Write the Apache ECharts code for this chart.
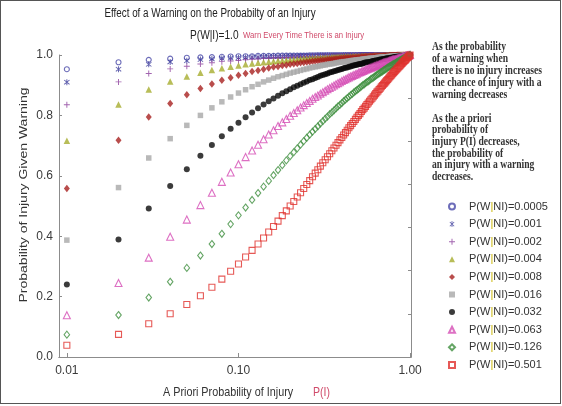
<!DOCTYPE html>
<html><head><meta charset="utf-8">
<script src="https://cdn.jsdelivr.net/npm/echarts@6/dist/echarts.min.js"></script>
<style>
html,body{margin:0;padding:0;background:#fff;}
#frame{position:absolute;left:0;top:0;width:559px;height:402px;border:1px solid #555;}
#chart{position:absolute;left:0;top:0;width:562px;height:406px;}
</style></head>
<body><div id="frame"></div><div id="chart"></div>
<script>
// A priori probability of injury P(I)
const pI = [0.01,0.02,0.03,0.04,0.05,0.06,0.07,0.08,0.09,0.10,
0.11,0.12,0.13,0.14,0.15,0.16,0.17,0.18,0.19,0.20,
0.21,0.22,0.23,0.24,0.25,0.26,0.27,0.28,0.29,0.30,
0.31,0.32,0.33,0.34,0.35,0.36,0.37,0.38,0.39,0.40,
0.41,0.42,0.43,0.44,0.45,0.46,0.47,0.48,0.49,0.50,
0.51,0.52,0.53,0.54,0.55,0.56,0.57,0.58,0.59,0.60,
0.61,0.62,0.63,0.64,0.65,0.66,0.67,0.68,0.69,0.70,
0.71,0.72,0.73,0.74,0.75,0.76,0.77,0.78,0.79,0.80,
0.81,0.82,0.83,0.84,0.85,0.86,0.87,0.88,0.89,0.90,
0.91,0.92,0.93,0.94,0.95,0.96,0.97,0.98,0.99,1.00];

// Probability of injury given warning, one list per P(W|NI)
const s0005 = [0.953,0.976,0.984,0.988,0.991,0.992,0.993,0.994,0.995,0.996,
0.996,0.996,0.997,0.997,0.997,0.997,0.998,0.998,0.998,0.998,
0.998,0.998,0.998,0.998,0.998,0.999,0.999,0.999,0.999,0.999,
0.999,0.999,0.999,0.999,0.999,0.999,0.999,0.999,0.999,0.999,
0.999,0.999,0.999,0.999,0.999,0.999,0.999,0.999,0.999,0.999,
1,1,1,1,1,1,1,1,1,1, 1,1,1,1,1,1,1,1,1,1, 1,1,1,1,1,1,1,1,1,1,
1,1,1,1,1,1,1,1,1,1, 1,1,1,1,1,1,1,1,1,1];
const s001 = [0.910,0.953,0.969,0.977,0.981,0.985,0.987,0.989,0.990,0.991,
0.992,0.993,0.993,0.994,0.994,0.995,0.995,0.995,0.996,0.996,
0.996,0.996,0.997,0.997,0.997,0.997,0.997,0.997,0.998,0.998,
0.998,0.998,0.998,0.998,0.998,0.998,0.998,0.998,0.998,0.998,
0.999,0.999,0.999,0.999,0.999,0.999,0.999,0.999,0.999,0.999,
0.999,0.999,0.999,0.999,0.999,0.999,0.999,0.999,0.999,0.999,
0.999,0.999,0.999,0.999,0.999,0.999,1,1,1,1,
1,1,1,1,1,1,1,1,1,1, 1,1,1,1,1,1,1,1,1,1, 1,1,1,1,1,1,1,1,1,1];
const s002 = [0.835,0.911,0.939,0.954,0.963,0.970,0.974,0.978,0.980,0.982,
0.984,0.986,0.987,0.988,0.989,0.990,0.990,0.991,0.992,0.992,
0.993,0.993,0.993,0.994,0.994,0.994,0.995,0.995,0.995,0.995,
0.996,0.996,0.996,0.996,0.996,0.996,0.997,0.997,0.997,0.997,
0.997,0.997,0.997,0.998,0.998,0.998,0.998,0.998,0.998,0.998,
0.998,0.998,0.998,0.998,0.998,0.998,0.998,0.999,0.999,0.999,
0.999,0.999,0.999,0.999,0.999,0.999,0.999,0.999,0.999,0.999,
0.999,0.999,0.999,0.999,0.999,0.999,0.999,0.999,0.999,0.999,
1,1,1,1,1,1,1,1,1,1, 1,1,1,1,1,1,1,1,1,1];
const s004 = [0.716,0.836,0.886,0.912,0.929,0.941,0.950,0.956,0.961,0.965,
0.969,0.972,0.974,0.976,0.978,0.979,0.981,0.982,0.983,0.984,
0.985,0.986,0.987,0.988,0.988,0.989,0.989,0.990,0.990,0.991,
0.991,0.992,0.992,0.992,0.993,0.993,0.993,0.994,0.994,0.994,
0.994,0.995,0.995,0.995,0.995,0.995,0.996,0.996,0.996,0.996,
0.996,0.996,0.997,0.997,0.997,0.997,0.997,0.997,0.997,0.997,
0.997,0.998,0.998,0.998,0.998,0.998,0.998,0.998,0.998,0.998,
0.998,0.998,0.999,0.999,0.999,0.999,0.999,0.999,0.999,0.999,
0.999,0.999,0.999,0.999,0.999,0.999,0.999,0.999,1,1,
1,1,1,1,1,1,1,1,1,1];
const s008 = [0.558,0.718,0.795,0.839,0.868,0.889,0.904,0.916,0.925,0.933,
0.939,0.945,0.949,0.953,0.957,0.960,0.962,0.965,0.967,0.969,
0.971,0.972,0.974,0.975,0.977,0.978,0.979,0.980,0.981,0.982,
0.983,0.983,0.984,0.985,0.985,0.986,0.987,0.987,0.988,0.988,
0.989,0.989,0.990,0.990,0.990,0.991,0.991,0.991,0.992,0.992,
0.992,0.993,0.993,0.993,0.994,0.994,0.994,0.994,0.995,0.995,
0.995,0.995,0.995,0.996,0.996,0.996,0.996,0.996,0.996,0.997,
0.997,0.997,0.997,0.997,0.997,0.998,0.998,0.998,0.998,0.998,
0.998,0.998,0.998,0.999,0.999,0.999,0.999,0.999,0.999,0.999,
0.999,0.999,0.999,1,1,1,1,1,1,1];
const s016 = [0.387,0.561,0.659,0.723,0.767,0.800,0.825,0.845,0.861,0.874,
0.885,0.895,0.903,0.911,0.917,0.923,0.928,0.932,0.936,0.940,
0.943,0.946,0.949,0.952,0.954,0.957,0.959,0.961,0.962,0.964,
0.966,0.967,0.969,0.970,0.971,0.972,0.974,0.975,0.976,0.977,
0.978,0.978,0.979,0.980,0.981,0.982,0.982,0.983,0.984,0.984,
0.985,0.985,0.986,0.987,0.987,0.988,0.988,0.989,0.989,0.989,
0.990,0.990,0.991,0.991,0.992,0.992,0.992,0.993,0.993,0.993,
0.994,0.994,0.994,0.994,0.995,0.995,0.995,0.996,0.996,0.996,
0.996,0.997,0.997,0.997,0.997,0.997,0.998,0.998,0.998,0.998,
0.998,0.999,0.999,0.999,0.999,0.999,1,1,1,1];
const s032 = [0.240,0.389,0.492,0.566,0.622,0.666,0.702,0.731,0.756,0.776,
0.794,0.810,0.824,0.836,0.847,0.856,0.865,0.873,0.880,0.887,
0.893,0.898,0.903,0.908,0.912,0.917,0.920,0.924,0.927,0.931,
0.934,0.936,0.939,0.942,0.944,0.946,0.948,0.950,0.952,0.954,
0.956,0.958,0.959,0.961,0.962,0.964,0.965,0.967,0.968,0.969,
0.970,0.971,0.972,0.974,0.975,0.976,0.976,0.977,0.978,0.979,
0.980,0.981,0.982,0.982,0.983,0.984,0.985,0.985,0.986,0.987,
0.987,0.988,0.988,0.989,0.989,0.990,0.991,0.991,0.992,0.992,
0.993,0.993,0.994,0.994,0.994,0.995,0.995,0.996,0.996,0.996,
0.997,0.997,0.998,0.998,0.998,0.999,0.999,0.999,1.000,1];
const s063 = [0.138,0.245,0.329,0.398,0.455,0.503,0.544,0.580,0.611,0.638,
0.662,0.684,0.703,0.721,0.737,0.751,0.765,0.777,0.788,0.799,
0.808,0.817,0.826,0.834,0.841,0.848,0.855,0.861,0.866,0.872,
0.877,0.882,0.887,0.891,0.895,0.899,0.903,0.907,0.910,0.914,
0.917,0.920,0.923,0.926,0.929,0.931,0.934,0.936,0.938,0.941,
0.943,0.945,0.947,0.949,0.951,0.953,0.955,0.956,0.958,0.960,
0.961,0.963,0.964,0.966,0.967,0.969,0.970,0.971,0.973,0.974,
0.975,0.976,0.977,0.978,0.979,0.981,0.982,0.983,0.984,0.985,
0.985,0.986,0.987,0.988,0.989,0.990,0.991,0.992,0.992,0.993,
0.994,0.995,0.995,0.996,0.997,0.997,0.998,0.999,0.999,1];
const s126 = [0.074,0.139,0.197,0.249,0.295,0.336,0.374,0.408,0.440,0.469,
0.495,0.520,0.543,0.564,0.583,0.602,0.619,0.635,0.651,0.665,
0.678,0.691,0.703,0.715,0.726,0.736,0.746,0.755,0.764,0.773,
0.781,0.789,0.796,0.804,0.810,0.817,0.823,0.830,0.835,0.841,
0.847,0.852,0.857,0.862,0.867,0.871,0.876,0.880,0.884,0.888,
0.892,0.896,0.900,0.903,0.907,0.910,0.913,0.916,0.920,0.923,
0.925,0.928,0.931,0.934,0.937,0.939,0.942,0.944,0.946,0.949,
0.951,0.953,0.956,0.958,0.960,0.962,0.964,0.966,0.968,0.970,
0.971,0.973,0.975,0.977,0.978,0.980,0.982,0.983,0.985,0.986,
0.988,0.989,0.991,0.992,0.993,0.995,0.996,0.997,0.999,1];
const s501 = [0.039,0.075,0.110,0.143,0.174,0.203,0.231,0.258,0.284,0.308,
0.331,0.353,0.374,0.394,0.414,0.432,0.450,0.468,0.484,0.500,
0.515,0.530,0.544,0.558,0.571,0.584,0.597,0.609,0.620,0.632,
0.643,0.653,0.663,0.673,0.683,0.692,0.701,0.710,0.719,0.727,
0.735,0.743,0.751,0.759,0.766,0.773,0.780,0.787,0.794,0.800,
0.806,0.813,0.819,0.824,0.830,0.836,0.841,0.847,0.852,0.857,
0.862,0.867,0.872,0.877,0.881,0.886,0.890,0.895,0.899,0.903,
0.907,0.911,0.915,0.919,0.923,0.927,0.931,0.934,0.938,0.941,
0.945,0.948,0.951,0.955,0.958,0.961,0.964,0.967,0.970,0.973,
0.976,0.979,0.982,0.984,0.987,0.990,0.992,0.995,0.997,1];

const seriesNames = ['P(W|NI)=0.0005','P(W|NI)=0.001','P(W|NI)=0.002','P(W|NI)=0.004','P(W|NI)=0.008',
  'P(W|NI)=0.016','P(W|NI)=0.032','P(W|NI)=0.063','P(W|NI)=0.126','P(W|NI)=0.501'];
const seriesValues = [s0005,s001,s002,s004,s008,s016,s032,s063,s126,s501];
const xTickValues = [0.01, 0.1, 1];
const yTicks = [0, 0.2, 0.4, 0.6, 0.8, 1.0];

const STAR = 'path://M4.35 0L5.65 0L5.65 10L4.35 10Z M0.9 1.8L1.8 0.9L9.1 8.2L8.2 9.1Z M8.2 0.9L9.1 1.8L1.8 9.1L0.9 8.2Z';
const PLUS = 'path://M4.2 0L5.8 0L5.8 4.2L10 4.2L10 5.8L5.8 5.8L5.8 10L4.2 10L4.2 5.8L0 5.8L0 4.2L4.2 4.2Z';
const styles = [
  {symbol:'circle', size:5, color:'#4848a8', open:true},
  {symbol:STAR, size:6, color:'#38389a', open:false},
  {symbol:PLUS, size:6, color:'#8b3d9b', open:false},
  {symbol:'triangle', size:6.5, color:'#a6ac2e', open:false},
  {symbol:'diamond', size:[6,7.5], color:'#a8201f', open:false},
  {symbol:'rect', size:5.5, color:'#a7a7a7', open:false},
  {symbol:'circle', size:6, color:'#0a0a0a', open:false},
  {symbol:'triangle', size:7, color:'#d54cb4', open:true},
  {symbol:'diamond', size:[5.5,7], color:'#3f8f3f', open:true},
  {symbol:'rect', size:6, color:'#e0302c', open:true}
];

const sansFont = '"Liberation Sans", Arial, sans-serif';
const serifFont = '"Liberation Serif", "Times New Roman", serif';

const series = seriesValues.map((vals, i) => {
  const st = styles[i];
  return {
    name: seriesNames[i],
    type: 'scatter',
    symbol: st.symbol,
    symbolSize: st.size,
    itemStyle: st.open
      ? {color: 'rgba(255,255,255,0)', borderColor: st.color, borderWidth: 1.1}
      : {color: st.color},
    emphasis: {disabled: true},
    data: pI.map((x, k) => [x, vals[k]])
  };
});

const chart = echarts.init(document.getElementById('chart'), null, {renderer: 'canvas'});
chart.setOption({
  animation: false,
  backgroundColor: 'transparent',
  grid: {left: 59, right: 151, top: 55, bottom: 49},
  xAxis: [{
    type: 'log', logBase: 10, min: 0.009, max: 1.012,
    axisLine: {lineStyle: {color: '#8c8c8c', width: 1}},
    axisTick: {show: true, inside: true, length: 4, lineStyle: {color: '#8c8c8c'}},
    splitLine: {show: false},
    axisLabel: {
      color: '#3a3a3a', fontSize: 12, fontFamily: sansFont, margin: 8,
      formatter: v => {
        const hit = xTickValues.find(t => Math.abs(Math.log10(v) - Math.log10(t)) < 1e-6);
        return hit !== undefined ? hit.toFixed(2) : '';
      }
    }
  }, {
    type: 'value', position: 'top', min: 0, max: 1,
    axisLine: {show: true, lineStyle: {color: '#8c8c8c', width: 1}},
    axisTick: {show: false}, axisLabel: {show: false}, splitLine: {show: false}
  }],
  yAxis: [{
    type: 'value', min: 0, max: 1, interval: 0.2,
    axisLine: {show: true, lineStyle: {color: '#8c8c8c', width: 1}},
    axisTick: {show: true, inside: true, length: 3, lineStyle: {color: '#8c8c8c'}},
    splitLine: {show: false},
    axisLabel: {color: '#3a3a3a', fontSize: 12, fontFamily: sansFont, margin: 6,
      formatter: v => {
        const hit = yTicks.find(t => Math.abs(t - v) < 1e-6);
        return hit !== undefined ? hit.toFixed(1) : '';
      }}
  }, {
    type: 'value', position: 'right', min: 0, max: 1, interval: 1/7,
    axisLine: {show: true, lineStyle: {color: '#8c8c8c', width: 1}},
    axisTick: {show: true, inside: true, length: 3, lineStyle: {color: '#8c8c8c'}},
    axisLabel: {show: false}, splitLine: {show: false}
  }],
  legend: {
    orient: 'vertical', left: 443, top: 196,
    itemWidth: 6, itemHeight: 6, itemGap: 6.6,
    data: seriesNames,
    formatter: name => {
      const parts = name.split('|');
      return '{p|' + parts[0] + '}{bar||}{t|' + parts[1] + '}';
    },
    textStyle: {
      rich: {
        p: {fontSize: 11, fontFamily: sansFont, color: '#333', lineHeight: 14, padding: [0,0,0,9]},
        bar: {fontSize: 11, fontFamily: sansFont, color: '#c8b400', lineHeight: 14},
        t: {fontSize: 11, fontFamily: sansFont, color: '#333', lineHeight: 14}
      }
    }
  },
  graphic: [
    {type: 'text', x: 210, y: 14, scaleX: 0.82,
      style: {text: 'Effect of a Warning on the Probabilty of an Injury', fontSize: 12, fontFamily: sansFont,
        fill: '#222', align: 'center', verticalAlign: 'middle'}},
    {type: 'text', x: 190, y: 35, scaleX: 0.78,
      style: {text: 'P(W|I)=1.0', fontSize: 13, fontFamily: sansFont, fill: '#222', align: 'left', verticalAlign: 'middle'}},
    {type: 'text', x: 243, y: 36, scaleX: 0.86,
      style: {text: 'Warn Every Time There is an Injury', fontSize: 9, fontFamily: sansFont, fill: '#d04a6a', align: 'left', verticalAlign: 'middle'}},
    {type: 'text', x: 163, y: 392, scaleX: 0.83,
      style: {text: 'A Priori Probability of Injury', fontSize: 13, fontFamily: sansFont, fill: '#333', align: 'left', verticalAlign: 'middle'}},
    {type: 'text', x: 313, y: 392, scaleX: 0.81,
      style: {text: 'P(I)', fontSize: 13, fontFamily: sansFont, fill: '#d04a6a', align: 'left', verticalAlign: 'middle'}},
    {type: 'text', x: 24, y: 195, rotation: Math.PI / 2, scaleY: 0.8,
      style: {text: 'Probability of Injury Given Warning', fontSize: 14, fontFamily: sansFont, fill: '#333', align: 'center', verticalAlign: 'middle'}},
    {type: 'text', x: 432, y: 41, scaleX: 0.8,
      style: {text: 'As the probability\nof a warning when\nthere is no injury increases\nthe chance of injury with a\nwarning decreases',
        fontSize: 12, fontWeight: 'bold', lineHeight: 12, fontFamily: serifFont, fill: '#333', align: 'left', verticalAlign: 'top'}},
    {type: 'text', x: 432, y: 113, scaleX: 0.8,
      style: {text: 'As the a priori\nprobability of\ninjury P(I) decreases,\nthe probability of\nan injury with a warning\ndecreases.',
        fontSize: 12, fontWeight: 'bold', lineHeight: 11.6, fontFamily: serifFont, fill: '#333', align: 'left', verticalAlign: 'top'}}
  ],
  series: series
});
</script>
</body></html>
